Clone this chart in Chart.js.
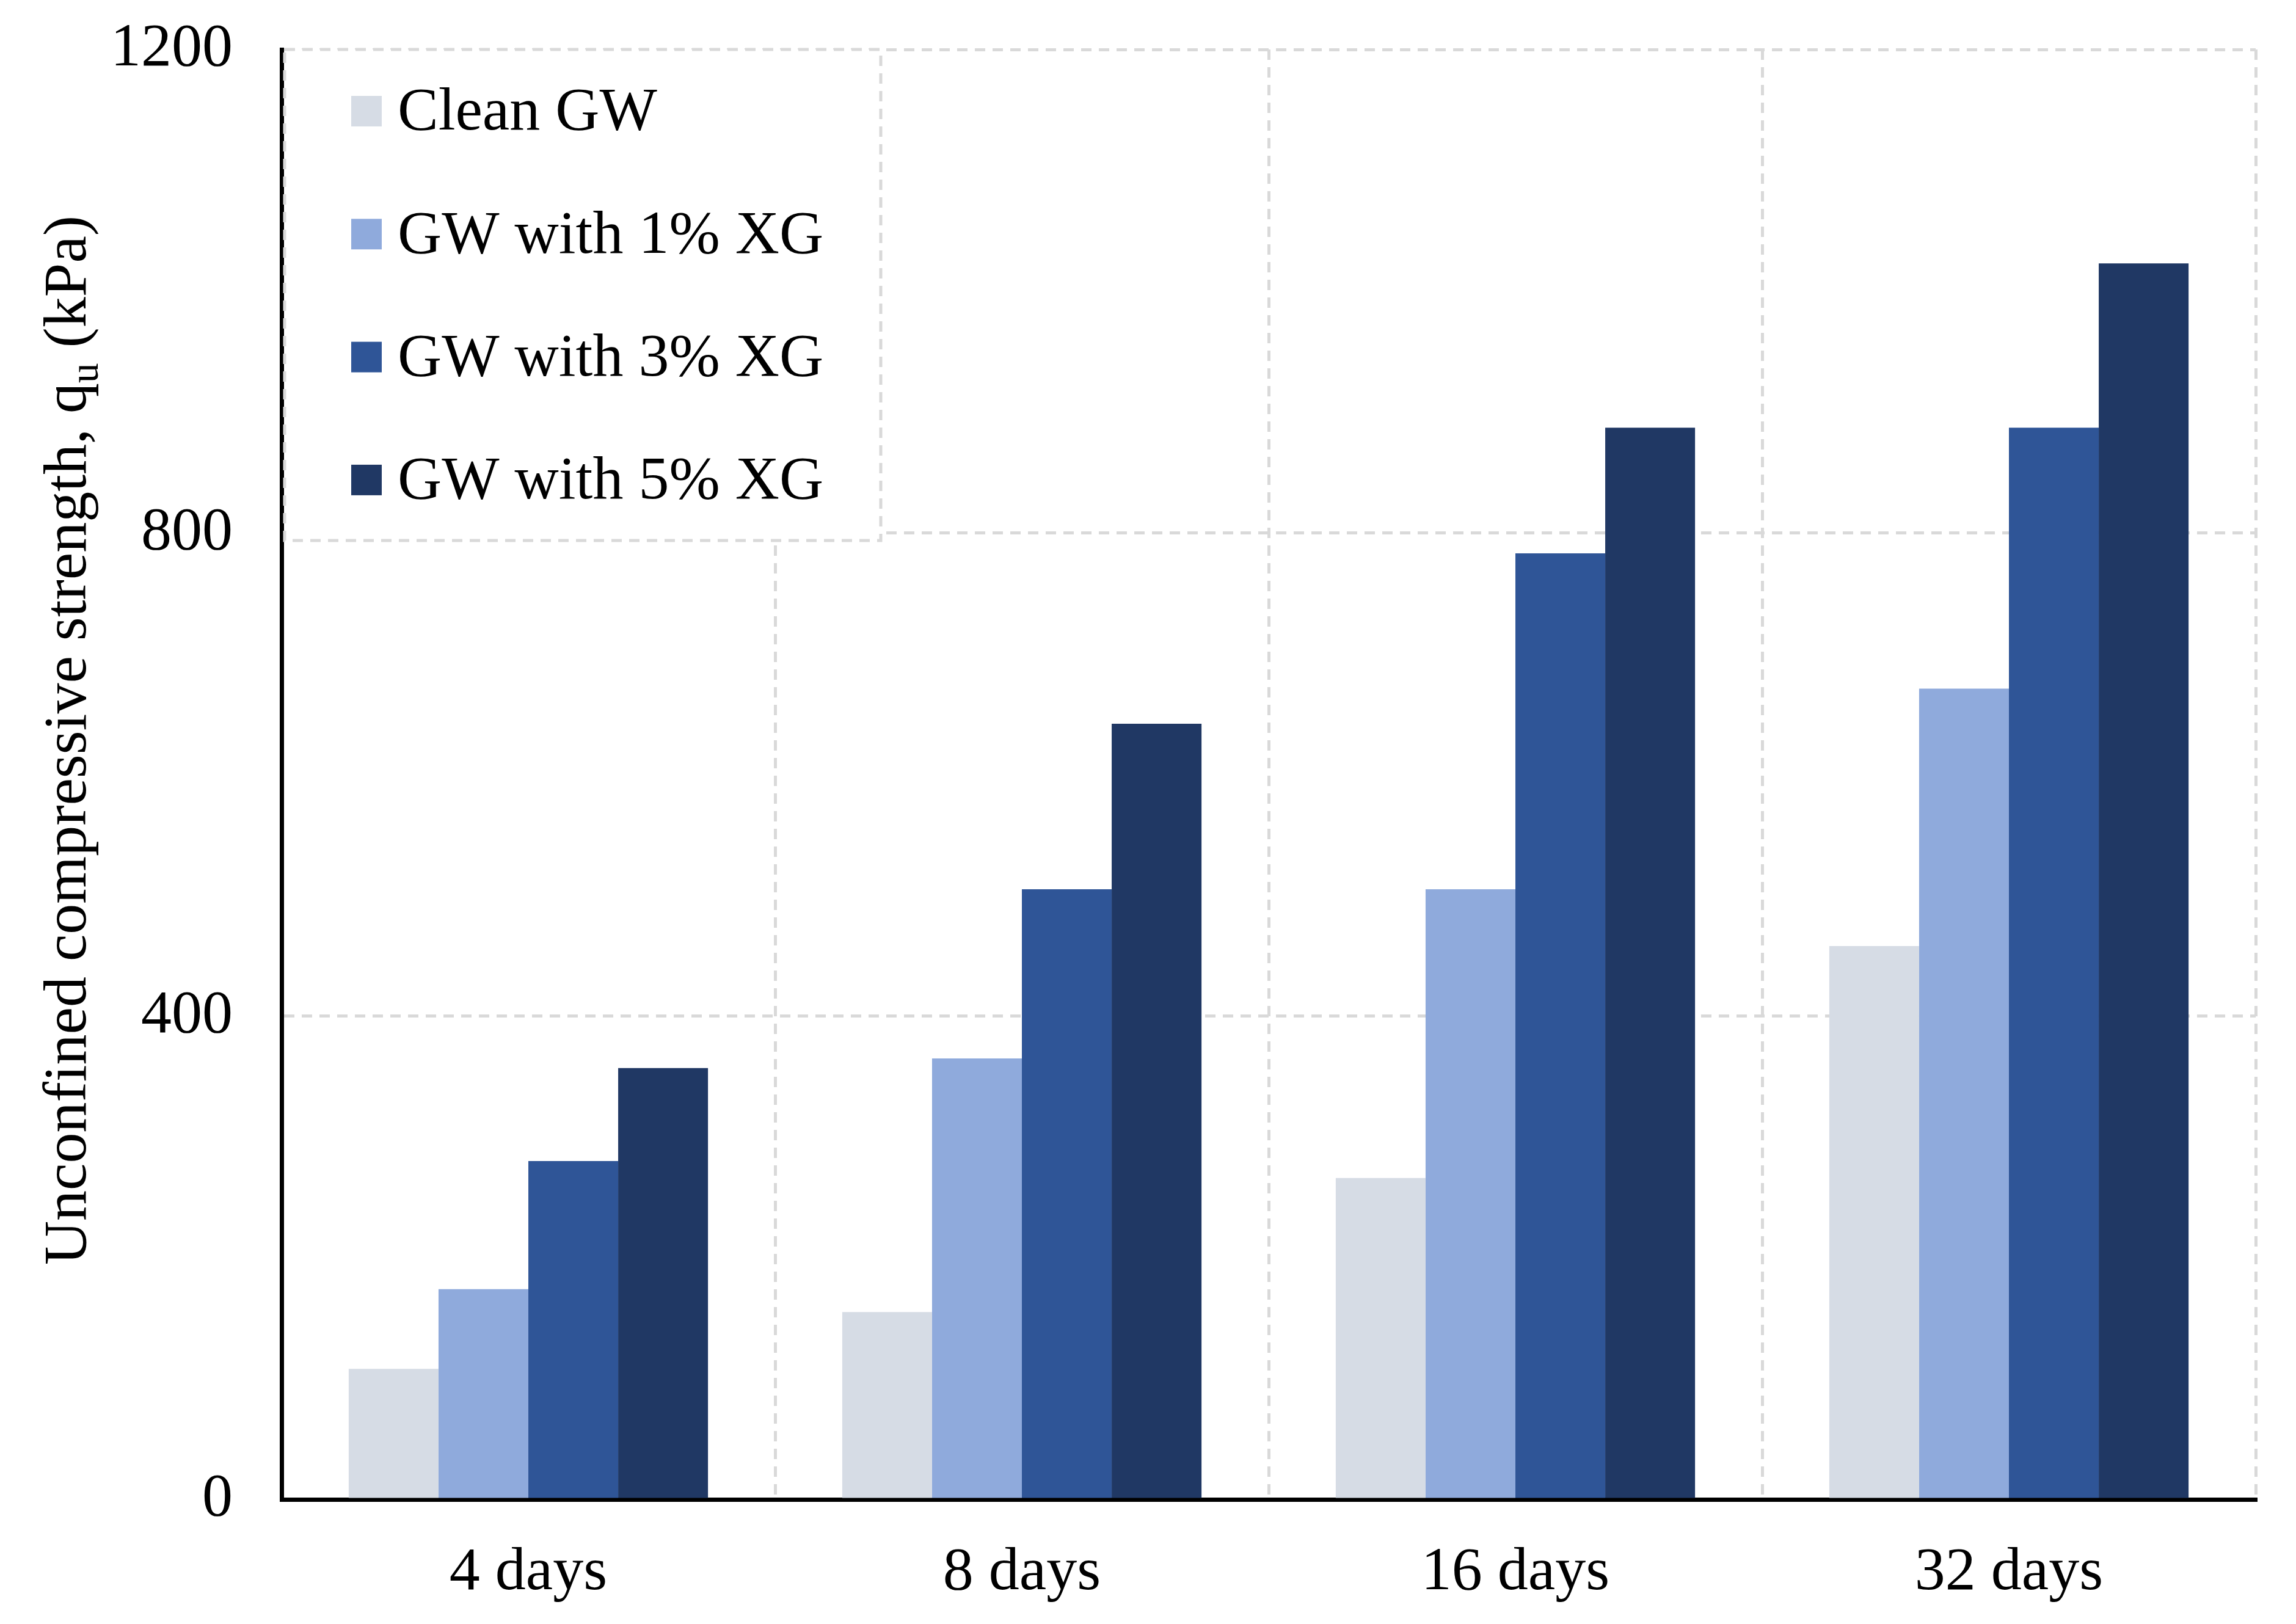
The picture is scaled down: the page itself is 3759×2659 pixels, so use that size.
<!DOCTYPE html>
<html>
<head>
<meta charset="utf-8">
<script src="https://cdn.jsdelivr.net/npm/chart.js@4.4.1/dist/chart.umd.min.js"></script>
<style>
  html, body { margin: 0; padding: 0; background: #fff; }
  #wrap { width: 3759px; height: 2659px; }
</style>
</head>
<body>
<div id="wrap"><canvas id="myChart"></canvas></div>
<script>
// data
const categories = ["4 days", "8 days", "16 days", "32 days"];
const seriesNames = ["Clean GW", "GW with 1% XG", "GW with 3% XG", "GW with 5% XG"];
const cleanGW = [108, 155, 266, 458];
const xg1 = [174, 365, 505, 671];
const xg3 = [280, 505, 783, 887];
const xg5 = [357, 642, 887, 1023];
const yTicks = [0, 400, 800, 1200];

const colors = ["#D6DCE5", "#8FAADC", "#2F5597", "#203864"];
const FONT = "'Liberation Serif', 'Times New Roman', serif";

Chart.defaults.font.family = FONT;
Chart.defaults.color = "#000";

// legend box drawn inside the plot, over the grid
const legendBox = {
  id: "legendBox",
  beforeDatasetsDraw(chart) {
    const { ctx, chartArea } = chart;
    const x0 = chartArea.left + 5;
    const y0 = chartArea.top;
    const x1 = 1442;
    const y1 = 885;
    ctx.save();
    ctx.fillStyle = "#fff";
    ctx.fillRect(x0, y0, x1 - x0, y1 - y0);
    ctx.strokeStyle = "#D9D9D9";
    ctx.lineWidth = 5;
    ctx.setLineDash([17, 12]);
    ctx.strokeRect(x0, y0, x1 - x0, y1 - y0);
    ctx.setLineDash([]);
    ctx.font = "100px " + FONT;
    ctx.textBaseline = "middle";
    chart.data.datasets.forEach((ds, i) => {
      const cy = 182 + i * 201.3;
      ctx.fillStyle = ds.backgroundColor;
      ctx.fillRect(575, cy - 25, 50, 50);
      ctx.fillStyle = "#000";
      ctx.fillText(ds.label, 651, cy + 4);
    });
    ctx.restore();
  },
};

// y axis title with subscript u
const yTitle = {
  id: "yTitle",
  afterDraw(chart) {
    const { ctx, chartArea } = chart;
    const main = "Unconfined compressive strength, q";
    const sub = "u";
    const rest = " (kPa)";
    ctx.save();
    ctx.font = "100px " + FONT;
    const w1 = ctx.measureText(main).width;
    const w3 = ctx.measureText(rest).width;
    ctx.font = "65px " + FONT;
    const w2 = ctx.measureText(sub).width;
    const total = w1 + w2 + w3;
    const cy = (chartArea.top + chartArea.bottom) / 2 - 56;
    ctx.translate(140, cy);
    ctx.rotate(-Math.PI / 2);
    ctx.fillStyle = "#000";
    ctx.textBaseline = "alphabetic";
    let x = -total / 2;
    ctx.font = "100px " + FONT;
    ctx.fillText(main, x, 0);
    x += w1;
    ctx.font = "65px " + FONT;
    ctx.fillText(sub, x, 20);
    x += w2;
    ctx.font = "100px " + FONT;
    ctx.fillText(rest, x, 0);
    ctx.restore();
  },
};

const seriesData = [cleanGW, xg1, xg3, xg5];

new Chart(document.getElementById("myChart"), {
  type: "bar",
  data: {
    labels: categories,
    datasets: seriesData.map((d, i) => ({
      label: seriesNames[i],
      data: d,
      backgroundColor: colors[i],
      borderWidth: 0,
      categoryPercentage: 0.728,
      barPercentage: 1.0,
    })),
  },
  options: {
    responsive: true,
    maintainAspectRatio: false,
    devicePixelRatio: 1,
    animation: false,
    layout: {
      padding: { top: 81, right: 66, left: 0, bottom: 0 },
    },
    scales: {
      x: {
        // border.dash dashes the grid lines, the axis line stays solid
        border: { display: true, color: "#000", width: 7, dash: [17, 12] },
        grid: {
          offset: true,
          color: "#D9D9D9",
          lineWidth: 5,
          drawTicks: false,
        },
        ticks: {
          padding: 61,
          color: "#000",
          font: { size: 100 },
        },
        afterFit: (scale) => {
          scale.height = 204;
          scale.paddingLeft = 0;
          scale.paddingRight = 0;
        },
      },
      y: {
        min: 0,
        max: 1200,
        afterBuildTicks: (scale) => {
          scale.ticks = yTicks.map((v) => ({ value: v }));
        },
        border: { display: true, color: "#000", width: 7, dash: [17, 12] },
        grid: {
          color: "#D9D9D9",
          lineWidth: 5,
          drawTicks: false,
        },
        ticks: {
          padding: 80,
          color: "#000",
          font: { size: 100 },
          callback: (value) => String(value),
        },
        afterFit: (scale) => {
          scale.width = 461;
          scale.paddingTop = 0;
          scale.paddingBottom = 0;
        },
      },
    },
    plugins: {
      legend: { display: false },
      tooltip: { enabled: false },
    },
  },
  plugins: [legendBox, yTitle],
});
</script>
</body>
</html>
